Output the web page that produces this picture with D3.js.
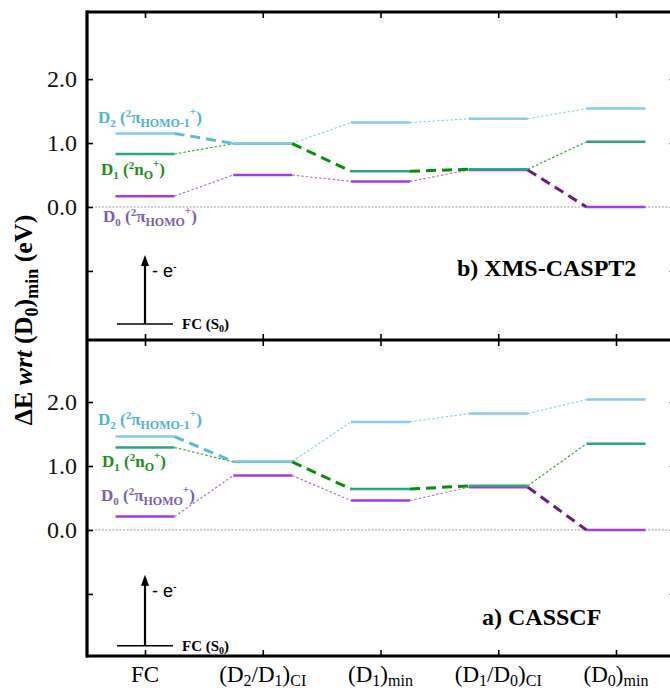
<!DOCTYPE html>
<html>
<head>
<meta charset="utf-8">
<script src="https://cdn.jsdelivr.net/npm/d3@7"></script>
<style>
  html, body { margin: 0; padding: 0; background: #fff; }
  svg { display: block; }
  text { font-family: "Liberation Serif", "Times New Roman", serif; }
</style>
</head>
<body>
<svg id="chart" width="670" height="692"></svg>
<script>
// Geometry points along the reaction path
const categories = ["FC", "D2D1_CI", "D1_min", "D1D0_CI", "D0_min"];

// Energies (eV) relative to (D0)min, XMS-CASPT2 (upper panel)
const pt2D2 = [1.15, 0.995, 1.32, 1.38, 1.54];
const pt2D1 = [0.83, 0.99, 0.56, 0.59, 1.02];
const pt2D0 = [0.17, 0.50, 0.40, 0.58, 0.00];

// Energies (eV) relative to (D0)min, CASSCF (lower panel)
const scfD2 = [1.46, 1.07, 1.69, 1.82, 2.04];
const scfD1 = [1.29, 1.065, 0.64, 0.69, 1.35];
const scfD0 = [0.21, 0.85, 0.46, 0.67, 0.00];

// Which connector of each state follows the relaxation path (1 = thick dashed)
const pathD2 = [1, 0, 0, 0];
const pathD1 = [0, 1, 1, 0];
const pathD0 = [0, 0, 0, 1];

// Ionisation marker: neutral ground state level and arrow tip (eV)
const s0Level = [-1.83, -1.81];
const arrowTip = [-0.75, -0.70];

const yTicks = [-1, 0, 1, 2];

const svg = d3.select("#chart");

const x = d3.scalePoint().domain(categories).range([145, 616]);
const half = 29.5;

const yTop = d3.scaleLinear().domain([-2.08, 3.05]).range([340, 12]);
const yBot = d3.scaleLinear().domain([-1.97, 2.97]).range([656, 340]);

const col = {
  D2: "#85cbea", D1: "#2aa57c", D0: "#a43ddf",
  D2dot: "#8fd3ea", D1dot: "#3aa83a", D0dot: "#b274c4",
  D2path: "#5bbbd6", D1path: "#0b8a0b", D0path: "#6c1b7c",
  D2lab: "#4fb2d2", D1lab: "#1f8c1f", D0lab: "#7a60b0"
};

function panel(y, d2, d1, d0, idx, title, titleX, titleY) {
  const g = svg.append("g");

  // zero reference
  g.append("line")
    .attr("x1", 88).attr("x2", 670)
    .attr("y1", y(0)).attr("y2", y(0))
    .attr("stroke", "#9a9a9a").attr("stroke-width", 1)
    .attr("stroke-dasharray", "2,1.5");

  const states = [
    { v: d0, c: col.D0, dot: col.D0dot, pc: col.D0path, path: pathD0 },
    { v: d1, c: col.D1, dot: col.D1dot, pc: col.D1path, path: pathD1 },
    { v: d2, c: col.D2, dot: col.D2dot, pc: col.D2path, path: pathD2 }
  ];

  // thin dotted connectors first
  states.forEach(s => {
    d3.range(categories.length - 1).forEach(i => {
      if (s.path[i]) return;
      g.append("line")
        .attr("x1", x(categories[i]) + half).attr("y1", y(s.v[i]))
        .attr("x2", x(categories[i + 1]) - half).attr("y2", y(s.v[i + 1]))
        .attr("stroke", s.dot).attr("stroke-width", 1.2)
        .attr("stroke-dasharray", "2.5,2");
    });
  });

  // level segments
  states.forEach(s => {
    g.selectAll(null).data(s.v).enter().append("line")
      .attr("x1", (d, i) => x(categories[i]) - half)
      .attr("x2", (d, i) => x(categories[i]) + half)
      .attr("y1", d => y(d)).attr("y2", d => y(d))
      .attr("stroke", s.c).attr("stroke-width", 2.5);
  });

  // thick dashed relaxation path
  states.forEach(s => {
    d3.range(categories.length - 1).forEach(i => {
      if (!s.path[i]) return;
      g.append("line")
        .attr("x1", x(categories[i]) + half).attr("y1", y(s.v[i]))
        .attr("x2", x(categories[i + 1]) - half).attr("y2", y(s.v[i + 1]))
        .attr("stroke", s.pc).attr("stroke-width", 3)
        .attr("stroke-dasharray", "10,6");
    });
  });

  // ground-state level and ionisation arrow
  const fx = x("FC");
  g.append("line")
    .attr("x1", fx - 28).attr("x2", fx + 28)
    .attr("y1", y(s0Level[idx])).attr("y2", y(s0Level[idx]))
    .attr("stroke", "#000").attr("stroke-width", 1.3);
  g.append("line")
    .attr("x1", fx).attr("x2", fx)
    .attr("y1", y(s0Level[idx])).attr("y2", y(arrowTip[idx]) + 8)
    .attr("stroke", "#000").attr("stroke-width", 2.2);
  const ty = y(arrowTip[idx]);
  g.append("path")
    .attr("d", `M${fx},${ty} L${fx - 4},${ty + 11} L${fx + 4},${ty + 11} Z`)
    .attr("fill", "#000");
  const et = g.append("text")
    .attr("x", fx + 7).attr("y", ty + 22)
    .style("font-family", "'Liberation Sans', Arial, sans-serif")
    .style("font-size", "18px");
  et.append("tspan").text("- e");
  et.append("tspan").attr("dy", -7).style("font-size", "11px").text("-");

  const fc = g.append("text")
    .attr("x", fx + 37).attr("y", y(s0Level[idx]) + 5)
    .style("font-size", "15px").style("font-weight", "bold");
  fc.append("tspan").text("FC (S");
  fc.append("tspan").attr("dy", 3).style("font-size", "10px").text("0");
  fc.append("tspan").attr("dy", -3).text(")");

  // panel title
  g.append("text")
    .attr("x", titleX).attr("y", titleY)
    .style("font-size", "24px").style("font-weight", "bold")
    .text(title);

  return g;
}

// state labels with sub/superscripts
function stateLabel(px, py, color, sub, inner, innerSub) {
  const t = svg.append("text")
    .attr("x", px).attr("y", py)
    .attr("fill", color)
    .style("font-size", "17px").style("font-weight", "bold");
  t.append("tspan").text("D");
  t.append("tspan").attr("dy", 4).style("font-size", "11px").text(sub);
  t.append("tspan").attr("dy", -4).text(" (");
  t.append("tspan").attr("dy", -6).style("font-size", "11px").text("2");
  t.append("tspan").attr("dy", 6).text(inner);
  t.append("tspan").attr("dy", 4).style("font-size", "12px").text(innerSub);
  t.append("tspan").attr("dy", -12).style("font-size", "11px").text("+");
  t.append("tspan").attr("dy", 8).text(")");
}

panel(yTop, pt2D2, pt2D1, pt2D0, 0, "b) XMS-CASPT2", 457, 276);
panel(yBot, scfD2, scfD1, scfD0, 1, "a) CASSCF", 482, 625);

stateLabel(98, 123, col.D2lab, "2", "π", "HOMO-1");
stateLabel(101, 175, col.D1lab, "1", "n", "O");
stateLabel(103, 222, col.D0lab, "0", "π", "HOMO");
stateLabel(98, 425, col.D2lab, "2", "π", "HOMO-1");
stateLabel(102, 467, col.D1lab, "1", "n", "O");
stateLabel(101, 501, col.D0lab, "0", "π", "HOMO");

// axes: left with labels, right with bare ticks
function leftAxis(y) {
  const a = svg.append("g").attr("transform", "translate(87,0)")
    .call(d3.axisLeft(y).tickValues(yTicks).tickSize(-6).tickPadding(10)
      .tickFormat(d => d < 0 ? "" : d3.format(".1f")(d)));
  a.select(".domain").remove();
  a.selectAll(".tick line").attr("stroke-width", 1.6);
  a.selectAll(".tick text")
    .style("font-family", "'Liberation Serif', serif")
    .style("font-size", "24px").attr("fill", "#111");
}
function rightAxis(y) {
  const a = svg.append("g").attr("transform", "translate(676,0)")
    .call(d3.axisLeft(y).tickValues(yTicks).tickSize(7).tickFormat(""));
  a.select(".domain").remove();
  a.selectAll(".tick line").attr("stroke", "#888").attr("stroke-width", 1.2);
}
leftAxis(yTop); leftAxis(yBot);
rightAxis(yTop); rightAxis(yBot);

// category ticks on horizontal frame lines
function hTicks(yy, dir) {
  const a = svg.append("g").attr("transform", `translate(0,${yy})`)
    .call((dir > 0 ? d3.axisBottom(x) : d3.axisTop(x)).tickSize(6).tickFormat(""));
  a.select(".domain").remove();
  a.selectAll(".tick line").attr("stroke-width", 1.6);
}
hTicks(12, 1);
hTicks(340, -1);
hTicks(340, 1);
hTicks(656, -1);

// frame
const frame = svg.append("g").attr("stroke", "#000").attr("stroke-width", 3.2);
[12, 340, 656].forEach(yy => frame.append("line")
  .attr("x1", 86).attr("x2", 680).attr("y1", yy).attr("y2", yy));
frame.append("line").attr("x1", 87).attr("x2", 87).attr("y1", 10.4).attr("y2", 657.6);

// category labels below the lower panel
const catLabels = [
  [["FC", 0]],
  [["(D", 0], ["2", 1], ["/D", -1], ["1", 1], [")", -1], ["CI", 1]],
  [["(D", 0], ["1", 1], [")", -1], ["min", 1]],
  [["(D", 0], ["1", 1], ["/D", -1], ["0", 1], [")", -1], ["CI", 1]],
  [["(D", 0], ["0", 1], [")", -1], ["min", 1]]
];
categories.forEach((c, i) => {
  const t = svg.append("text")
    .attr("x", x(c)).attr("y", 682)
    .attr("text-anchor", "middle")
    .style("font-size", "23px");
  catLabels[i].forEach(([s, shift]) => {
    const sp = t.append("tspan").text(s);
    if (shift === 1) sp.attr("dy", 4).style("font-size", "16px");
    if (shift === -1) sp.attr("dy", -4);
  });
});

// y axis title
const yt = svg.append("text")
  .attr("transform", "translate(32,320) rotate(-90)")
  .attr("text-anchor", "middle")
  .style("font-size", "26px").style("font-weight", "bold");
yt.append("tspan").text("ΔE ");
yt.append("tspan").style("font-style", "italic").text("wrt");
yt.append("tspan").text(" (D");
yt.append("tspan").attr("dy", 6).style("font-size", "18px").text("0");
yt.append("tspan").attr("dy", -6).text(")");
yt.append("tspan").attr("dy", 6).style("font-size", "18px").text("min");
yt.append("tspan").attr("dy", -6).text(" (eV)");
</script>
</body>
</html>
